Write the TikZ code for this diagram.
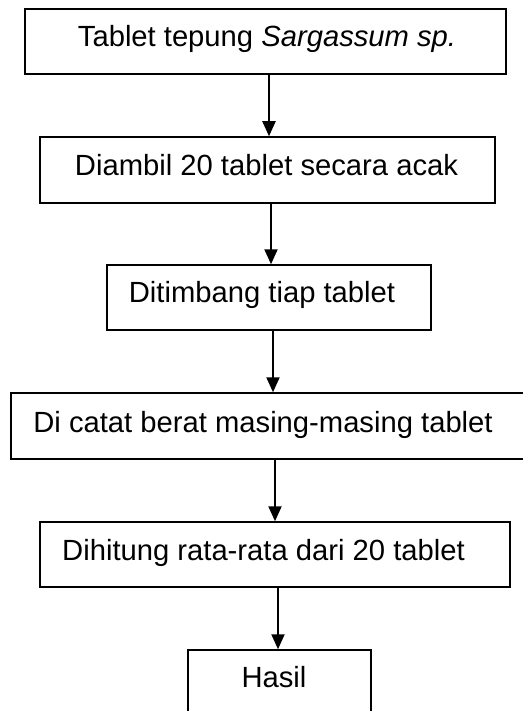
\documentclass[tikz,border=0pt]{standalone}
\usepackage{fontspec}
\setmainfont{Liberation Sans}
\usetikzlibrary{arrows.meta}
\begin{document}
\begin{tikzpicture}[x=1pt,y=-1pt,
  box/.style={draw=black, line width=1.5pt, rectangle, inner sep=0pt, fill=none},
  lbl/.style={anchor=base, inner sep=0pt, font=\fontsize{29.2}{34}\selectfont},
  arr/.style={line width=2pt, -{Triangle[width=13pt,length=15pt]}}]
\useasboundingbox (0,0) rectangle (522,711);
% boxes
\node[box, minimum width=481pt, minimum height=65pt] (b1) at (265.5,41.5) {};
\node[box, minimum width=455pt, minimum height=66pt] (b2) at (267.5,170) {};
\node[box, minimum width=324pt, minimum height=65pt] (b3) at (269,297.5) {};
\node[box, minimum width=519pt, minimum height=66pt] (b4) at (270.5,426) {};
\node[box, minimum width=470pt, minimum height=65pt] (b5) at (275,554.5) {};
\node[box, minimum width=183pt, minimum height=70pt] (b6) at (279.5,685) {};
% texts
\node[lbl] (t1) at (267,47) {Tablet tepung \textit{Sargassum sp.}};
\node[lbl] (t2) at (266.5,176) {Diambil 20 tablet secara acak};
\node[lbl] (t3) at (262,302) {Ditimbang tiap tablet};
\node[lbl] (t4) at (263,432) {Di catat berat masing-masing tablet};
\node[lbl] (t5) at (263.5,560) {Dihitung rata-rata dari 20 tablet};
\node[lbl] (t6) at (274,687) {Hasil};
% arrow x positions
\coordinate (a1) at (269,0);
\coordinate (a2) at (271,0);
\coordinate (a3) at (273,0);
\coordinate (a4) at (275,0);
\coordinate (a5) at (278,0);
% connectors
\draw[arr] (b1.south -| a1) -- (b2.north -| a1);
\draw[arr] (b2.south -| a2) -- (b3.north -| a2);
\draw[arr] (b3.south -| a3) -- (b4.north -| a3);
\draw[arr] (b4.south -| a4) -- (b5.north -| a4);
\draw[arr] (b5.south -| a5) -- (b6.north -| a5);
\end{tikzpicture}
\end{document}
